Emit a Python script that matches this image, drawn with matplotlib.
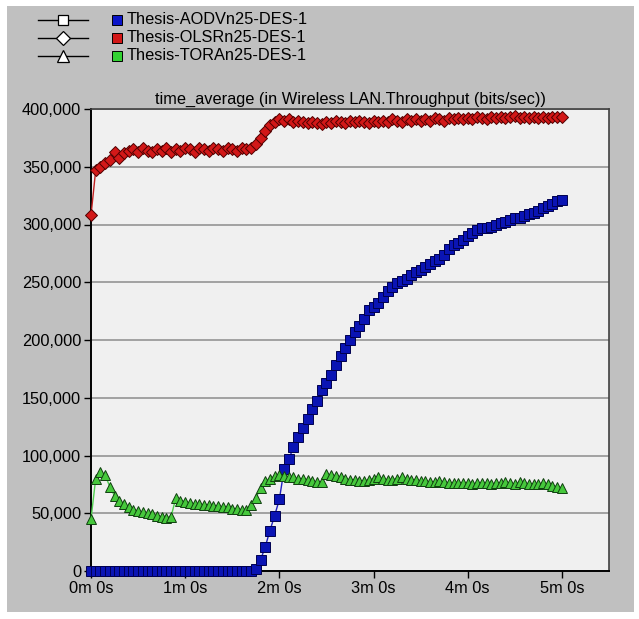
import numpy as np
import matplotlib.pyplot as plt
from matplotlib.patches import Rectangle
from matplotlib.lines import Line2D
from matplotlib.ticker import FuncFormatter, MultipleLocator

plt.rcParams['font.family'] = ['Liberation Sans', 'DejaVu Sans']

# sample times, every 3 s from 0 to 300 s
t = np.arange(0, 301, 3)

series_names = ["Thesis-AODVn25-DES-1", "Thesis-OLSRn25-DES-1", "Thesis-TORAn25-DES-1"]

# throughput, in thousands of bits/sec
aodv = [0] * 35 + [
    2, 9.5, 21, 35, 48, 62, 88, 97, 107, 116,
    124, 132, 140, 147, 157, 163, 170, 178, 186, 193,
    200, 207, 212, 218, 226, 229, 232, 237, 242, 246,
    249, 251, 253, 256, 259, 261, 263, 266, 268, 270,
    274, 279, 282, 284, 287, 290, 293, 295, 297, 297,
    298, 300, 301, 302, 304, 306, 306, 307, 309, 310,
    312, 314, 316, 318, 320, 321]

olsr = [
    308, 347, 350, 353, 356, 363, 358, 362, 364, 365,
    363, 366, 364, 363, 365, 364, 366, 363, 365, 364,
    366, 365, 363, 366, 365, 364, 366, 365, 364, 366,
    365, 364, 366, 365, 366, 370, 375, 381, 386, 389,
    391, 390, 391, 389, 390, 389, 388, 389, 388, 387,
    389, 388, 390, 389, 388, 390, 389, 390, 389, 388,
    390, 389, 390, 389, 391, 390, 389, 391, 390, 391,
    390, 391, 390, 392, 391, 390, 392, 391, 392, 391,
    392, 391, 393, 392, 391, 393, 392, 393, 392, 393,
    394, 392, 393, 392, 393, 392, 393, 392, 393, 393,
    393]

tora = [
    45, 80, 86, 83, 73, 65, 61, 58, 55, 53,
    52, 51, 50, 49, 48, 47, 46, 47, 63, 61,
    60, 59, 58, 58, 57, 57, 56, 56, 55, 55,
    54, 54, 53, 53, 57, 63, 72, 78, 80, 82,
    83, 82, 81, 81, 80, 80, 79, 78, 77, 77,
    84, 83, 82, 81, 80, 79, 79, 78, 78, 79,
    80, 81, 80, 79, 79, 80, 81, 80, 79, 79,
    78, 78, 77, 77, 78, 77, 76, 76, 76, 76,
    76, 75, 76, 76, 76, 75, 76, 76, 77, 76,
    75, 77, 76, 75, 75, 75, 76, 75, 74, 73,
    72]

W, H = 639, 619
fig = plt.figure(figsize=(W / 100, H / 100), dpi=100, facecolor='white')
fig.patches.append(Rectangle((7 / W, 1 - 612 / H), 627 / W, 606 / H,
                             transform=fig.transFigure, facecolor='#c0c0c0',
                             edgecolor='none', zorder=-10))

ax = fig.add_axes([91 / W, 1 - 571 / H, 518 / W, 462 / H])
ax.set_facecolor('#f0f0f0')

styles = [
    dict(color='#2020c0', marker='s', ms=6.6, mfc='#0a14b4', mec='#000050', lw=1.0),
    dict(color='#c02020', marker='D', ms=6.4, mfc='#d21818', mec='#500000', lw=1.0),
    dict(color='#50d050', marker='^', ms=7.2, mfc='#46c83c', mec='#104010', lw=1.0),
]
for vals, st in zip([aodv, olsr, tora], styles):
    ax.plot(t, np.array(vals) * 1000, mew=0.7, zorder=3, clip_on=False, **st)

ax.set_xlim(0, 330)
ax.set_ylim(0, 400000)
ax.xaxis.set_major_locator(MultipleLocator(60))
ax.yaxis.set_major_locator(MultipleLocator(50000))
ax.xaxis.set_major_formatter(FuncFormatter(lambda v, p: f"{int(v // 60)}m {int(v % 60)}s"))
ax.yaxis.set_major_formatter(FuncFormatter(lambda v, p: f"{int(v):,}"))
ax.tick_params(direction='out', length=5, width=1, colors='black', labelsize=11.8, pad=2)
ax.grid(axis='y', color='#8c8c8c', lw=1.1)
ax.set_axisbelow(True)
for s in ['left', 'bottom']:
    ax.spines[s].set_color('black')
    ax.spines[s].set_linewidth(1.4)
for s in ['top', 'right']:
    ax.spines[s].set_color('#404040')
    ax.spines[s].set_linewidth(1.2)
ax.set_title("time_average (in Wireless LAN.Throughput (bits/sec))", fontsize=11.8, pad=4)

# legend drawn by hand at the top left
legend_markers = [('s', 7), ('D', 7), ('^', 8.5)]
legend_colors = ['#0a14c8', '#d21818', '#32d232']
for i, (name, (mk, ms), col) in enumerate(zip(series_names, legend_markers, legend_colors)):
    y = 1 - (20 + 18 * i) / H
    fig.add_artist(Line2D([38 / W, 88 / W], [y, y], transform=fig.transFigure,
                          color='black', lw=1))
    fig.add_artist(Line2D([63 / W], [y], transform=fig.transFigure, marker=mk,
                          ms=ms, mfc='white', mec='black', mew=0.9, lw=0))
    fig.add_artist(Line2D([117 / W], [y], transform=fig.transFigure, marker='s',
                          ms=7, mfc=col, mec='black', mew=0.7, lw=0))
    fig.text(127 / W, y, name, fontsize=11.8, va='center', ha='left')

fig.savefig('out.png', dpi=100)
